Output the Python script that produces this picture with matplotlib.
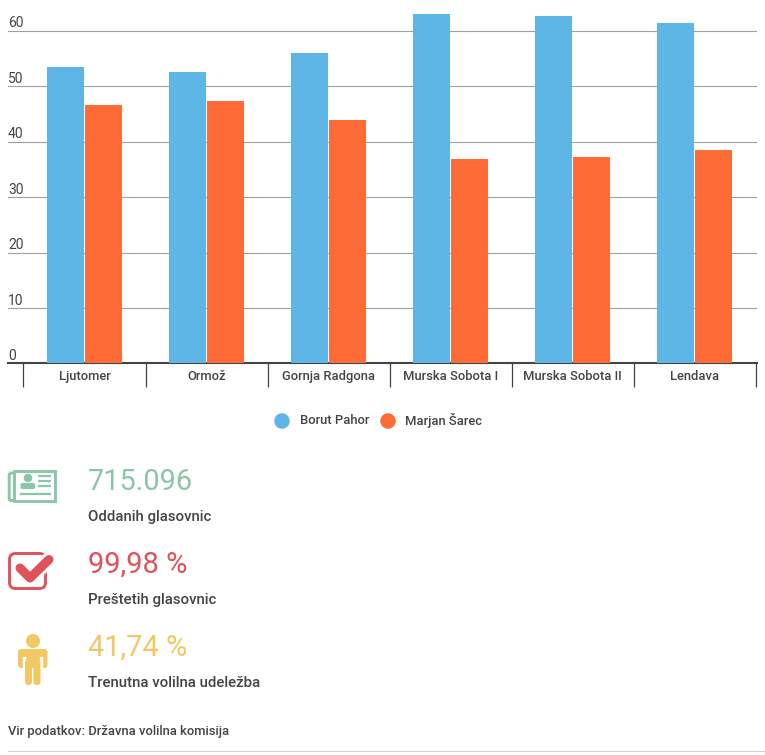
import matplotlib
matplotlib.use("Agg")
import matplotlib.pyplot as plt
import numpy as np
from matplotlib.patches import Circle, FancyBboxPatch, Rectangle

plt.rcParams['font.family'] = ['Roboto', 'DejaVu Sans']

W, H = 765, 755

categories = ["Ljutomer", "Ormož", "Gornja Radgona", "Murska Sobota I", "Murska Sobota II", "Lendava"]
pahor = [53.5, 52.6, 56.0, 63.0, 62.7, 61.4]
sarec = [46.6, 47.3, 43.9, 36.9, 37.2, 38.5]
y_ticks = [0, 10, 20, 30, 40, 50, 60]
series_names = ["Borut Pahor", "Marjan Šarec"]
stat_values = ["715.096", "99,98 %", "41,74 %"]
stat_labels = ["Oddanih glasovnic", "Preštetih glasovnic", "Trenutna volilna udeležba"]
source = "Vir podatkov: Državna volilna komisija"

BLUE = "#5eb6e7"
ORANGE = "#ff6b36"
GREEN = "#8cc6a8"
RED = "#e0525a"
YELLOW = "#f2c864"
TEXT = "#444444"

fig = plt.figure(figsize=(W / 100, H / 100), dpi=100)

# bar chart, axes placed in pixels
ax = fig.add_axes([8 / W, 1 - 363.5 / H, 749 / W, 363.5 / H])
x = np.arange(len(categories))
bar_w = 37 / 122
ax.bar(x - 0.157, pahor, bar_w, color=BLUE, zorder=3)
ax.bar(x + 0.157, sarec, bar_w, color=ORANGE, zorder=3)
ax.set_xlim(-0.627, 5.512)
ax.set_ylim(0, 363.5 / 5.55)

for s in ["top", "left", "right"]:
    ax.spines[s].set_visible(False)
ax.spines["bottom"].set_color("#444444")
ax.spines["bottom"].set_linewidth(1.5)
ax.set_zorder(2)

ax.set_yticks(y_ticks[1:])
ax.set_yticklabels([])
ax.tick_params(axis="y", length=0)
ax.grid(axis="y", color="#a0a0a0", linewidth=0.8, zorder=1)
ax.set_axisbelow(True)
for t in y_ticks:
    ax.annotate(str(t), xy=(0, t), xycoords=ax.get_yaxis_transform(), xytext=(0, 0.2),
                textcoords="offset points", ha="left", va="bottom", fontsize=10, color=TEXT)

ax.set_xticks(x)
ax.set_xticklabels(categories, fontsize=9.4, color=TEXT, fontweight=500)
ax.tick_params(axis="x", which="major", length=0, pad=4.5)
ax.set_xticks(np.arange(len(categories) + 1) - 0.5, minor=True)
ax.tick_params(axis="x", which="minor", length=17, width=0.9, color="#444444")

# overlay in pixel coordinates for legend, stats and icons
ov = fig.add_axes([0, 0, 1, 1])
ov.set_xlim(0, W)
ov.set_ylim(H, 0)
ov.axis("off")

# legend
ov.scatter([282, 388], [421, 421], s=125, color=[BLUE, ORANGE], linewidths=0)
ov.text(300, 421, series_names[0], fontsize=9.4, color=TEXT, va="center", fontweight=500)
ov.text(405.5, 421, series_names[1], fontsize=9.4, color=TEXT, va="center", fontweight=500)

# stats
for i, col in enumerate([GREEN, RED, YELLOW]):
    ov.text(88, 482 + 83 * i, stat_values[i], fontsize=20.9, color=col, va="center")
    ov.text(88, 517 + 83 * i, stat_labels[i], fontsize=10.8, color=TEXT, va="center", fontweight=500)

# newspaper icon
ov.add_patch(FancyBboxPatch((9.2, 473), 10, 27.5, boxstyle="round,pad=0,rounding_size=2",
                            fc="white", ec=GREEN, lw=2.1))
ov.add_patch(Rectangle((14.5, 470.5), 40.3, 30, fc="white", ec=GREEN, lw=2.1))
ov.add_patch(Circle((28, 478), 3.6, color=GREEN))
ov.add_patch(FancyBboxPatch((20.5, 483), 14.5, 6, boxstyle="round,pad=0,rounding_size=1.5", fc=GREEN, ec="none"))
for yy, x0 in [(475.5, 38), (480.5, 38), (486, 38), (493.5, 20)]:
    ov.plot([x0, 51], [yy, yy], color=GREEN, lw=1.6, solid_capstyle="butt")

# check icon
ov.add_patch(FancyBboxPatch((9.5, 553.5), 36, 35, boxstyle="round,pad=0,rounding_size=6",
                            fc="white", ec=RED, lw=2.1))
ov.plot([30, 54], [578, 554.6], color="white", lw=10.8, solid_capstyle="butt")
ov.plot([20, 30, 49], [568, 578, 559.5], color=RED, lw=6.5, solid_capstyle="round", solid_joinstyle="round")

# person icon
ov.add_patch(Circle((33, 641), 6.3, color=YELLOW))
ov.add_patch(FancyBboxPatch((18, 649), 29.5, 19, boxstyle="round,pad=0,rounding_size=3", fc=YELLOW, ec="none"))
ov.add_patch(Rectangle((23.5, 657), 1.5, 13, color="white"))
ov.add_patch(Rectangle((40.5, 657), 1.5, 13, color="white"))
ov.add_patch(FancyBboxPatch((25, 660), 7, 25, boxstyle="round,pad=0,rounding_size=3", fc=YELLOW, ec="none"))
ov.add_patch(FancyBboxPatch((33.5, 660), 7, 25, boxstyle="round,pad=0,rounding_size=3", fc=YELLOW, ec="none"))

# source and bottom rule
ov.text(8, 731, source, fontsize=9.4, color=TEXT, va="center", fontweight=500)
ov.plot([8, 765], [750.5, 750.5], color="#d0d0d0", lw=0.8)

fig.savefig("out.png", dpi=100)
